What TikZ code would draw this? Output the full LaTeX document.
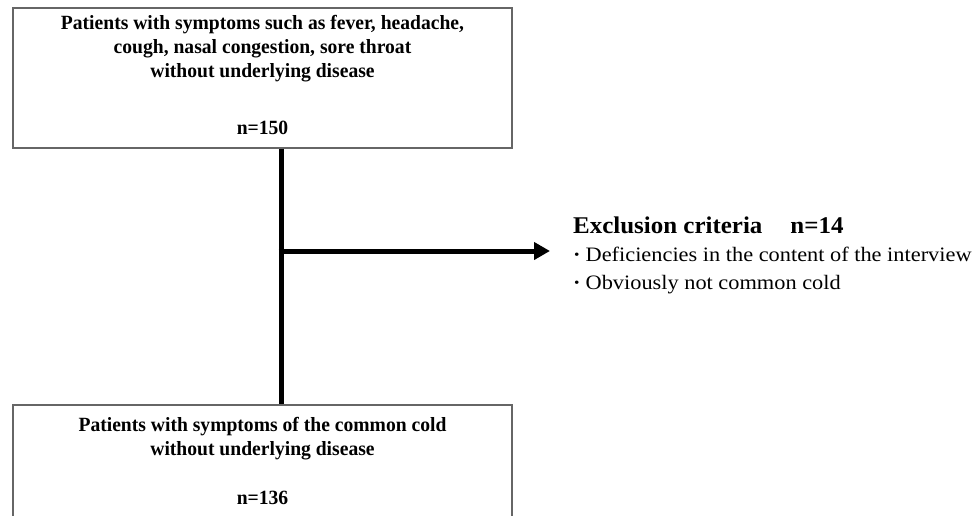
\documentclass[tikz,border=0pt]{standalone}
\usepackage{fontspec}
\setmainfont{Liberation Serif}
\newfontfamily\boxfont[FakeStretch=0.97]{Liberation Serif}
\newfontfamily\titlefont[FakeStretch=1.04]{Liberation Serif}
\newfontfamily\itemfont[FakeStretch=1.09]{Liberation Serif}
\usetikzlibrary{arrows.meta}
\begin{document}
\begin{tikzpicture}[x=1pt,y=-1pt,
  box/.style={draw=black!60, line width=1.2pt, inner sep=0pt, minimum width=499pt},
  boxtext/.style={anchor=base, inner sep=0pt, font=\boxfont\fontsize{20.2}{24}\selectfont\bfseries},
  extitle/.style={anchor=base west, inner sep=0pt, font=\titlefont\fontsize{24}{26}\selectfont\bfseries},
  exitem/.style={anchor=base west, inner sep=0pt, font=\itemfont\fontsize{20.5}{24}\selectfont},
  flow/.style={line width=5pt},
  flowarrow/.style={line width=5pt, -{Triangle[length=16pt,width=17pt]}}]
\useasboundingbox (0,0) rectangle (975,515);
\fill[white] (0,0) rectangle (975,515);
% boxes
\node[box, minimum height=140pt] (top) at (262.5,78) {};
\node[box, minimum height=120pt] (bot) at (262.5,465) {};
% top box text
\node[boxtext] (t1) at (262.5,29.5) {Patients with symptoms such as fever, headache,};
\node[boxtext] (t2) at (262.5,53.5) {cough, nasal congestion, sore throat};
\node[boxtext] (t3) at (262.5,77.5) {without underlying disease};
\node[boxtext] (t4) at (262.5,134.5) {n=150};
% bottom box text
\node[boxtext] (b1) at (262.5,431) {Patients with symptoms of the common cold};
\node[boxtext] (b2) at (262.5,455) {without underlying disease};
\node[boxtext] (b3) at (262.5,504) {n=136};
% connectors
\coordinate (j) at (281,251);
\coordinate (tip) at (550,251);
\draw[flow] (top.south -| j) -- (bot.north -| j);
\draw[flowarrow] ([xshift=-2.5pt]j) -- (tip);
% exclusion text
\node[extitle] (ex) at (573,233) {Exclusion criteria\hspace{28pt}n=14};
\node[exitem] (e1) at (573,261) {\textbf{·}\hspace{5pt}Deficiencies in the content of the interview};
\node[exitem] (e2) at (573,289) {\textbf{·}\hspace{5pt}Obviously not common cold};
\end{tikzpicture}
\end{document}
